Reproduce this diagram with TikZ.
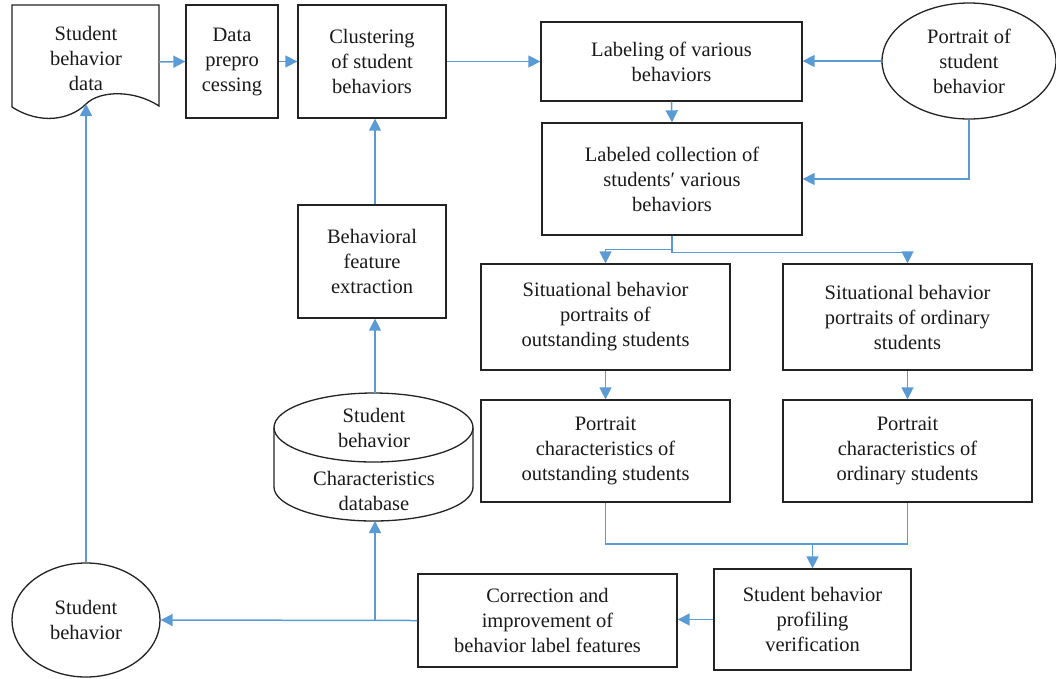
\documentclass[tikz,border=0pt]{standalone}
\usepackage{fontspec}
\setmainfont{Liberation Serif}
\usetikzlibrary{arrows.meta,shapes.geometric}
\definecolor{flow}{RGB}{91,155,213}
\definecolor{edge}{RGB}{35,35,35}
\begin{document}
\begin{tikzpicture}[x=1pt,y=-1pt,
  txt/.style={font=\fontsize{20.5}{25}\selectfont, align=center, text=black!90},
  box/.style={txt, draw=edge, line width=1.3pt, inner sep=0pt, rectangle},
  oval/.style={txt, draw=edge, line width=1.3pt, inner sep=0pt, ellipse},
  arr/.style={draw=flow, line width=1.5pt, -{Triangle[length=12pt,width=12pt]}},
  link/.style={draw=flow, line width=1.5pt}]
\useasboundingbox (0,0) rectangle (1056,678);

% document-shaped source at the top left
\draw[edge, line width=1.3pt, fill=white] (12,107) -- (12,5) -- (159,5) -- (159,106)
  .. controls (135,90) and (100,90) .. (86,104)
  .. controls (70,120) and (40,125) .. (12,107);
\node[txt] (doc) at (86,58) {Student\\behavior\\data};
\coordinate (docE) at (159,62);
\coordinate (docB) at (86,104);

% process boxes
\node[box, minimum width=92pt, minimum height=113pt] (prep) at (232,61.5) {Data\\prepro\\cessing};
\node[box, minimum width=148pt, minimum height=113pt] (clust) at (372,61.5) {Clustering\\of student\\behaviors};
\node[box, minimum width=261pt, minimum height=79pt] (label) at (671.5,61.5) {Labeling of various\\behaviors};
\node[oval, minimum width=174pt, minimum height=116pt] (port) at (969,61) {Portrait of\\student\\behavior};
\node[box, minimum width=260pt, minimum height=112pt] (coll) at (672,179) {Labeled collection of\\students′ various\\behaviors};
\node[box, minimum width=249pt, minimum height=106pt] (sitA) at (605.5,317) {Situational behavior\\portraits of\\outstanding students};
\node[box, minimum width=249pt, minimum height=106pt] (sitB) at (907.5,317) {Situational behavior\\portraits of ordinary\\students};
\node[box, minimum width=249pt, minimum height=102pt] (portA) at (605.5,451) {Portrait\\characteristics of\\outstanding students};
\node[box, minimum width=249pt, minimum height=102pt] (portB) at (907.5,451) {Portrait\\characteristics of\\ordinary students};
\node[box, minimum width=197pt, minimum height=101pt] (verif) at (812.5,619.5) {Student behavior\\profiling\\verification};
\node[box, minimum width=259pt, minimum height=93pt] (corr) at (547.5,620.5) {Correction and\\improvement of\\behavior label features};
\node[box, minimum width=148pt, minimum height=113pt] (feat) at (372,261.5) {Behavioral\\feature\\extraction};
\node[oval, minimum width=148pt, minimum height=114pt] (sb) at (86,620) {Student\\behavior};

% database cylinder
\draw[edge, line width=1.3pt] (274,427.5) -- (274,487) arc[start angle=180, end angle=360, x radius=99.5pt, y radius=34pt] -- (473,427.5);
\draw[edge, line width=1.3pt] (373.5,427.5) ellipse[x radius=99.5pt, y radius=34.5pt];
\node[txt] (dbtop) at (374,428) {Student\\behavior};
\node[txt] (dbbot) at (374,491) {Characteristics\\database};
\coordinate (cylTop) at (375,393);
\coordinate (cylBot) at (375,521);

% flow connectors
\draw[arr] (docE) -- (prep.west);
\draw[arr] (prep.east) -- (clust.west);
\draw[arr] (clust.east) -- (label.west);
\draw[arr] (port.west) -- (port.west -| label.east);
\draw[arr] (port.south) |- (coll.east);
\draw[arr] (label.south) -- (coll.north);
\draw[arr] (coll.south) -- ++(0,14) -| (sitA.north);
\draw[arr] (coll.south) -- ++(0,17) -| (sitB.north);
\draw[arr] (sitA.south) -- (portA.north);
\draw[arr] (sitB.south) -- (portB.north);
\coordinate (mrg) at (812.5,544);
\draw[link] (portA.south) |- (mrg) -| (portB.south);
\draw[arr] (mrg) -- (verif.north);
\draw[arr] (verif.west) -- (verif.west -| corr.east);
\draw[arr] (corr.west) -- (sb.east);
\coordinate (junc) at (375,620.5);
\draw[arr] (junc) -- (cylBot);
\draw[arr] (cylTop) -- (cylTop |- feat.south);
\draw[arr] (feat.north -| cylTop) -- (clust.south -| cylTop);
\draw[arr] (sb.north) -- (docB);
\end{tikzpicture}
\end{document}
